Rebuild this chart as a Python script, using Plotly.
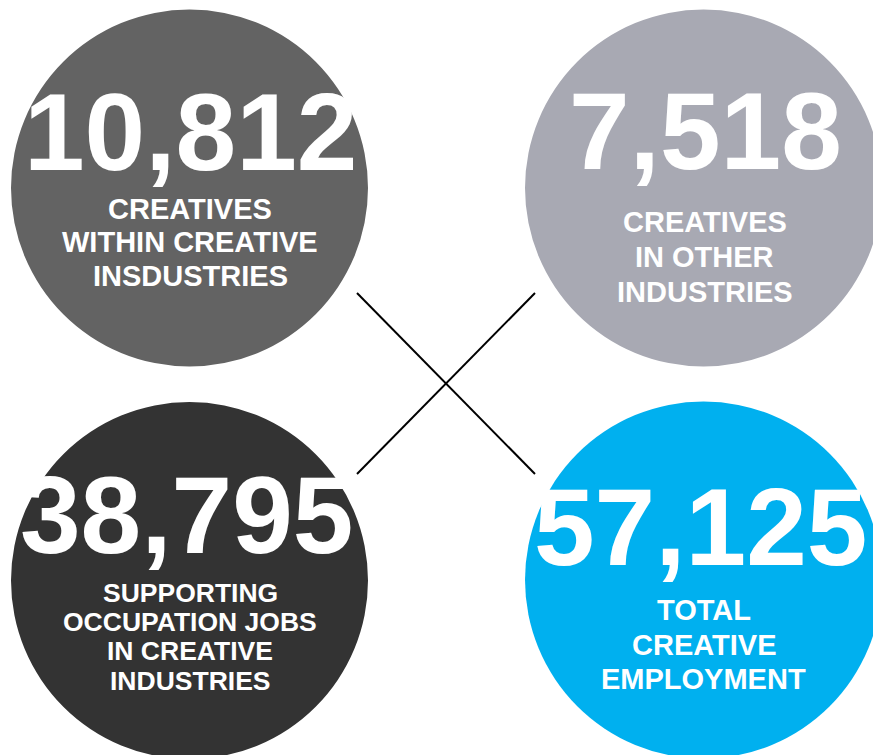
import plotly.graph_objects as go

# Headline figures and their captions, one caption line per list entry
values = [10812, 7518, 38795, 57125]
captions = [
    ["CREATIVES", "WITHIN CREATIVE", "INSDUSTRIES"],
    ["CREATIVES", "IN OTHER", "INDUSTRIES"],
    ["SUPPORTING", "OCCUPATION JOBS", "IN CREATIVE", "INDUSTRIES"],
    ["TOTAL", "CREATIVE", "EMPLOYMENT"],
]
colors = ["#636363", "#a8a9b3", "#333333", "#00b0ef"]

# Layout of the bubbles on a pixel-like canvas (y grows downward)
W, H = 873, 755
centers = [(189.5, 188), (703.5, 188), (189.5, 580.5), (703.5, 580)]
radius = 178.5
number_pos = [(190, 131.5), (705, 131), (186, 514.5), (700, 527)]
number_size = 109
caption_x = [190, 704.5, 190, 703.5]
caption_first_y = [208.5, 221.5, 593, 610]
caption_step = [33.8, 35.2, 29.2, 34.5]
caption_size = [29, 29, 26.5, 29]

# Connector cross between the four bubbles
cross_x0 = [357, 357]
cross_y0 = [293, 474]
cross_x1 = [535, 535]
cross_y1 = [474, 293]

fig = go.Figure()
fig.add_trace(go.Scatter(x=[0, W], y=[0, H], mode="markers",
                         marker=dict(opacity=0), hoverinfo="skip", showlegend=False))

for (cx, cy), col in zip(centers, colors):
    fig.add_shape(type="circle", xref="x", yref="y",
                  x0=cx - radius, x1=cx + radius, y0=cy - radius, y1=cy + radius,
                  fillcolor=col, line=dict(width=0), layer="below")

for x0, y0, x1, y1 in zip(cross_x0, cross_y0, cross_x1, cross_y1):
    fig.add_shape(type="line", xref="x", yref="y", x0=x0, y0=y0, x1=x1, y1=y1,
                  line=dict(color="#000000", width=2))

bold = "Liberation Sans, Arial, Helvetica, sans-serif"

for v, (nx, ny) in zip(values, number_pos):
    fig.add_annotation(x=nx, y=ny, xref="x", yref="y", text=f"<b>{v:,}</b>",
                       showarrow=False, xanchor="center", yanchor="middle",
                       font=dict(family=bold, size=number_size, color="white"))

for lines, cx, y0, step, fs in zip(captions, caption_x, caption_first_y, caption_step, caption_size):
    for i, line in enumerate(lines):
        fig.add_annotation(x=cx, y=y0 + i * step, xref="x", yref="y", text=f"<b>{line}</b>",
                           showarrow=False, xanchor="center", yanchor="middle",
                           font=dict(family=bold, size=fs, color="white"))

fig.update_xaxes(range=[0, W], visible=False, fixedrange=True)
fig.update_yaxes(range=[H, 0], visible=False, fixedrange=True)
fig.update_layout(width=W, height=H, margin=dict(l=0, r=0, t=0, b=0),
                  paper_bgcolor="white", plot_bgcolor="white", showlegend=False)

fig.write_html("out.html")
